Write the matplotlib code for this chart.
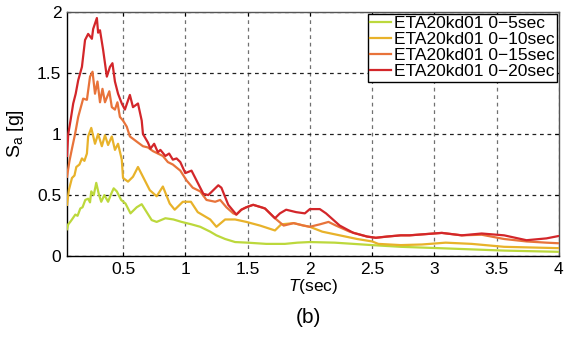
import numpy as np
import matplotlib
matplotlib.use("Agg")
import matplotlib.pyplot as plt

plt.rcParams["font.family"] = ["Liberation Sans", "DejaVu Sans"]
plt.rcParams["mathtext.fontset"] = "custom"
plt.rcParams["mathtext.rm"] = "Liberation Sans"
plt.rcParams["mathtext.it"] = "Liberation Sans:italic"

# ---------- Spectral acceleration, ETA20kd01, cumulative windows ----------
T_05 = [0.05, 0.06, 0.076, 0.09, 0.117, 0.135, 0.157, 0.175, 0.197, 0.22, 0.235, 0.245, 0.265,
        0.285, 0.305, 0.325, 0.35, 0.38, 0.405, 0.425, 0.45, 0.485, 0.52, 0.56, 0.61, 0.65,
        0.69, 0.73, 0.77, 0.84, 0.905, 0.97, 1.05, 1.12, 1.2, 1.25, 1.32, 1.4, 1.5, 1.65,
        1.8, 1.9, 2.0, 2.2, 2.5, 2.73, 3.09, 3.56, 4.0]
S_05 = [0.22, 0.26, 0.28, 0.30, 0.34, 0.33, 0.39, 0.40, 0.46, 0.47, 0.44, 0.53, 0.50,
        0.60, 0.51, 0.445, 0.50, 0.445, 0.51, 0.555, 0.53, 0.46, 0.43, 0.35, 0.40, 0.425,
        0.36, 0.295, 0.28, 0.31, 0.30, 0.28, 0.26, 0.24, 0.20, 0.17, 0.14, 0.115, 0.11, 0.10,
        0.10, 0.11, 0.115, 0.11, 0.09, 0.076, 0.063, 0.045, 0.035]

T_10 = [0.05, 0.065, 0.09, 0.11, 0.125, 0.15, 0.17, 0.19, 0.21, 0.22, 0.245, 0.275, 0.30,
        0.33, 0.355, 0.38, 0.41, 0.435, 0.46, 0.49, 0.50, 0.54, 0.58, 0.62, 0.66, 0.715,
        0.77, 0.82, 0.875, 0.915, 0.98, 1.045, 1.10, 1.15, 1.20, 1.25, 1.32, 1.40, 1.49,
        1.60, 1.72, 1.77, 1.87, 1.95, 2.0, 2.1, 2.24, 2.38, 2.5, 2.55, 2.73, 2.9, 3.09,
        3.3, 3.56, 3.8, 4.0]
S_10 = [0.42, 0.54, 0.64, 0.66, 0.73, 0.75, 0.80, 0.78, 0.84, 0.98, 1.05, 0.92, 1.0,
        0.90, 0.99, 0.91, 0.98, 0.87, 0.92, 0.79, 0.64, 0.61, 0.65, 0.73, 0.65, 0.54,
        0.49, 0.57, 0.43, 0.38, 0.445, 0.445, 0.36, 0.33, 0.30, 0.24, 0.30, 0.30, 0.28,
        0.25, 0.21, 0.26, 0.27, 0.25, 0.24, 0.20, 0.17, 0.14, 0.12, 0.10, 0.09, 0.095, 0.11,
        0.10, 0.076, 0.07, 0.065]

T_15 = [0.05, 0.07, 0.09, 0.115, 0.14, 0.18, 0.21, 0.235, 0.255, 0.275, 0.295, 0.315, 0.335,
        0.355, 0.39, 0.41, 0.435, 0.455, 0.475, 0.50, 0.53, 0.555, 0.62, 0.66, 0.70, 0.74,
        0.78, 0.82, 0.86, 0.90, 0.96, 1.01, 1.06, 1.12, 1.17, 1.24, 1.28, 1.33, 1.385, 1.41,
        1.45, 1.49, 1.545, 1.61, 1.64, 1.72, 1.79, 1.87, 1.95, 2.0, 2.08, 2.15, 2.21, 2.32,
        2.46, 2.53, 2.62, 2.73, 2.8, 2.93, 3.06, 3.22, 3.38, 3.56, 3.74, 3.9, 4.0]
S_15 = [0.65, 0.78, 0.88, 1.0, 1.14, 1.29, 1.28, 1.47, 1.51, 1.33, 1.43, 1.26, 1.37,
        1.26, 1.35, 1.22, 1.20, 1.26, 1.14, 1.11, 1.06, 0.98, 0.93, 0.90, 0.89, 0.86,
        0.84, 0.82, 0.77, 0.75, 0.70, 0.62, 0.56, 0.53, 0.46, 0.445, 0.46, 0.40, 0.35, 0.34,
        0.38, 0.40, 0.42, 0.40, 0.39, 0.31, 0.25, 0.27, 0.25, 0.24, 0.26, 0.28, 0.25, 0.20,
        0.16, 0.15, 0.16, 0.17, 0.17, 0.18, 0.19, 0.17, 0.175, 0.14, 0.12, 0.11, 0.105]

T_20 = [0.05, 0.06, 0.08, 0.10, 0.12, 0.14, 0.17, 0.195, 0.22, 0.25, 0.26, 0.29, 0.30,
        0.315, 0.34, 0.37, 0.395, 0.415, 0.435, 0.46, 0.49, 0.515, 0.555, 0.58, 0.62, 0.65,
        0.66, 0.70, 0.72, 0.75, 0.78, 0.80, 0.84, 0.87, 0.90, 0.93, 0.96, 1.0, 1.05, 1.09,
        1.145, 1.185, 1.265, 1.29, 1.345, 1.41, 1.45, 1.49, 1.545, 1.61, 1.64, 1.72, 1.76,
        1.81, 1.89, 1.96, 2.0, 2.08, 2.13, 2.24, 2.35, 2.46, 2.53, 2.62, 2.73, 2.8, 2.93,
        3.06, 3.22, 3.38, 3.56, 3.74, 3.9, 4.0]
S_20 = [0.82, 1.0, 1.12, 1.25, 1.33, 1.44, 1.55, 1.77, 1.82, 1.78, 1.86, 1.95, 1.83,
        1.85, 1.69, 1.47, 1.55, 1.58, 1.43, 1.33, 1.25, 1.20, 1.32, 1.22, 1.25, 1.11,
        1.0, 0.93, 0.88, 0.92, 0.85, 0.87, 0.82, 0.84, 0.79, 0.80, 0.77, 0.68, 0.70, 0.62,
        0.51, 0.50, 0.58, 0.56, 0.42, 0.34, 0.38, 0.40, 0.42, 0.40, 0.39, 0.31, 0.35,
        0.38, 0.36, 0.35, 0.385, 0.385, 0.35, 0.25, 0.19, 0.16, 0.15, 0.16, 0.17, 0.17, 0.18,
        0.19, 0.17, 0.185, 0.17, 0.13, 0.145, 0.165]

labels = ["ETA20kd01 0\u22125sec", "ETA20kd01 0\u221210sec",
          "ETA20kd01 0\u221215sec", "ETA20kd01 0\u221220sec"]
colors = ["#bcd83c", "#e8b22a", "#e8733a", "#d3262a"]

x_ticks = [0.5, 1, 1.5, 2, 2.5, 3, 3.5, 4]
x_ticklabels = ["0.5", "1", "1.5", "2", "2.5", "3", "3.5", "4"]
y_ticks = [0, 0.5, 1, 1.5, 2]
y_ticklabels = ["0", "0.5", "1", "1.5", "2"]

# ---------- Plot ----------
fig = plt.figure(figsize=(5.75, 3.41), dpi=100)
ax = fig.add_axes([0.1165, 0.249, 0.8555, 0.716])

series = [(T_05, S_05), (T_10, S_10), (T_15, S_15), (T_20, S_20)]
for (t, s), c, lab in zip(series, colors, labels):
    ax.plot(t, s, color=c, lw=1.6, label=lab, zorder=3)

ax.set_xlim(0.05, 4)
ax.set_ylim(0, 2)
ax.set_xticks(x_ticks)
ax.set_xticklabels(x_ticklabels)
ax.set_yticks(y_ticks)
ax.set_yticklabels(y_ticklabels)
ax.tick_params(direction="in", top=True, right=True, length=3, labelsize=12.5, pad=4)

ax.xaxis.grid(True, ls=(0, (3, 3)), color="#707070", lw=0.9)
ax.yaxis.grid(True, ls=(0, (3, 3)), color="#202020", lw=0.9)
for sp in ax.spines.values():
    sp.set_linewidth(1.0)
ax.spines["top"].set_color("#555555")
ax.spines["right"].set_color("#555555")

ax.set_ylabel(r"$\mathrm{S}_{\mathrm{a}}$ [g]", fontsize=14, labelpad=8)
ax.set_xlabel(r"$T$(sec)", fontsize=12.5, labelpad=0)

leg = ax.legend(loc="upper right", fontsize=12.5, handlelength=1.2, handletextpad=0.15,
                labelspacing=0.05, borderpad=0.15, borderaxespad=0.1, fancybox=False,
                framealpha=1)
leg.get_frame().set_edgecolor("black")
leg.get_frame().set_linewidth(1.0)

fig.text(0.536, 0.07, "(b)", fontsize=15, ha="center", va="center")

fig.savefig("out.png", dpi=100)
